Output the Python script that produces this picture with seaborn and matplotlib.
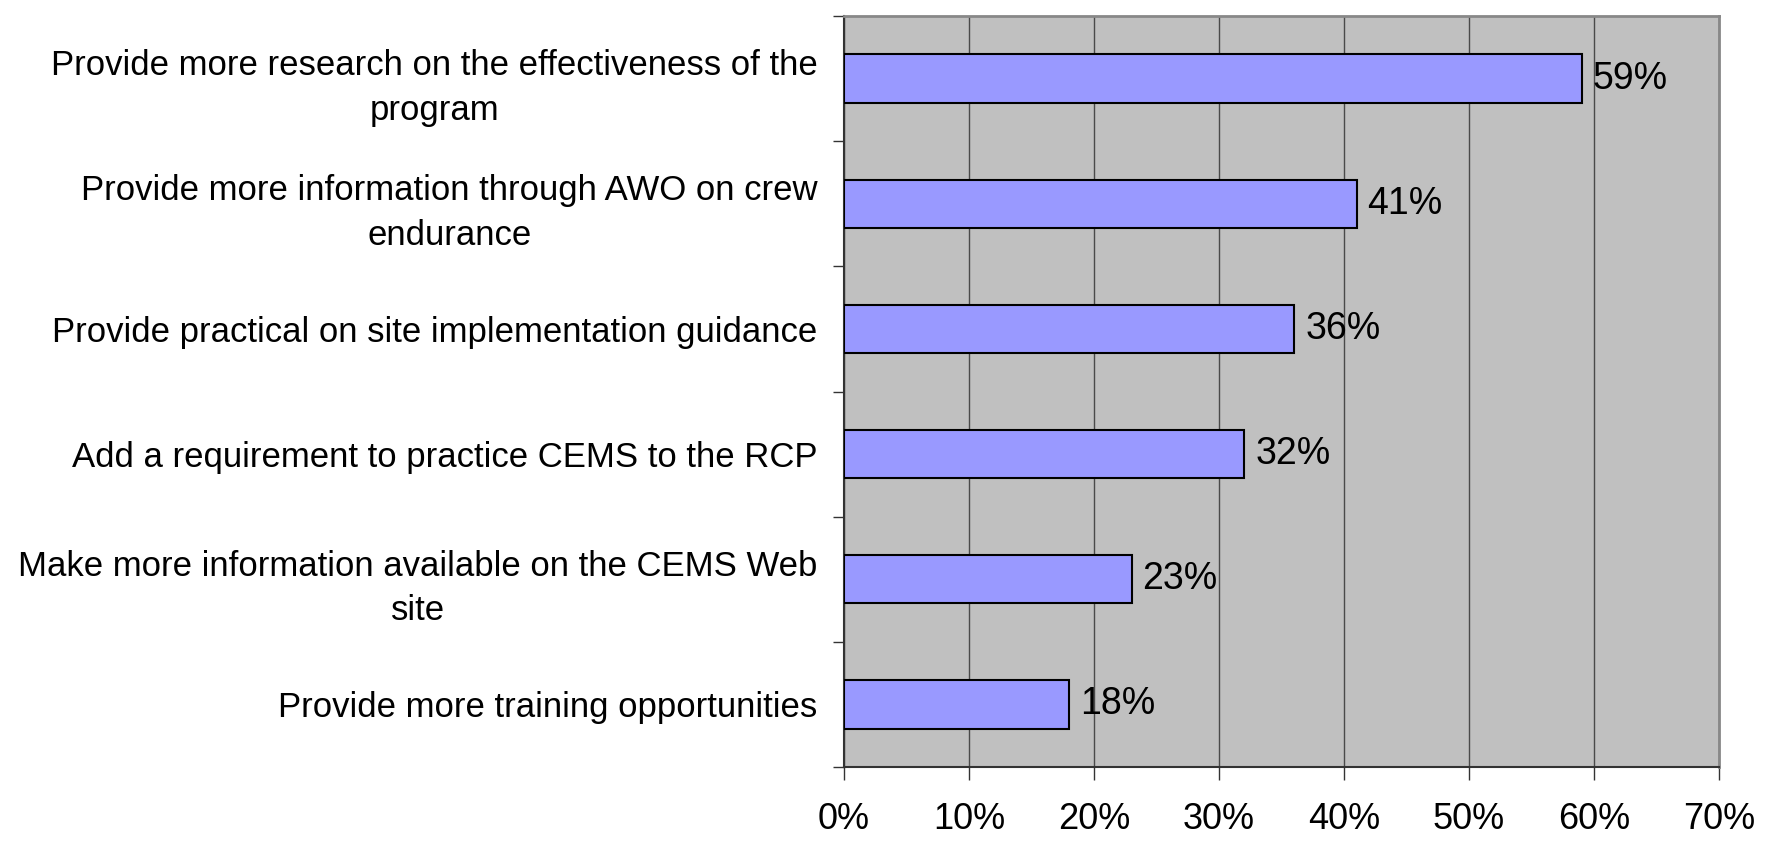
import matplotlib
matplotlib.use("Agg")
import matplotlib.pyplot as plt
from matplotlib import font_manager
from matplotlib.ticker import FixedLocator, FuncFormatter
import seaborn as sns
import pandas as pd

# Data
categories = [
    "Provide more research on the effectiveness of the\nprogram",
    "Provide more information through AWO on crew\nendurance",
    "Provide practical on site implementation guidance",
    "Add a requirement to practice CEMS to the RCP",
    "Make more information available on the CEMS Web\nsite",
    "Provide more training opportunities",
]
values = [59, 41, 36, 32, 23, 18]
x_ticks = [0, 10, 20, 30, 40, 50, 60, 70]

df = pd.DataFrame({"suggestion": categories, "pct": values})

sns.set_style("white")
plt.rcParams["font.family"] = ["Liberation Sans", "DejaVu Sans"]
plt.rcParams["text.color"] = "black"
plt.rcParams["xtick.labelcolor"] = "black"
plt.rcParams["ytick.labelcolor"] = "black"

# narrow font for the long category labels if we have it
installed = {f.name for f in font_manager.fontManager.ttflist}
if "Liberation Sans Narrow" in installed:
    label_family, label_size = "Liberation Sans Narrow", 28
else:
    label_family, label_size = "Liberation Sans", 25

fig = plt.figure(figsize=(17.67, 8.41), dpi=100)
ax = fig.add_axes([844 / 1767, 1 - 767 / 841, 875 / 1767, 751 / 841])
ax.set_facecolor("#C0C0C0")

sns.barplot(data=df, x="pct", y="suggestion", orient="h", color="#9999FF",
            saturation=1, edgecolor="black", linewidth=1.5, width=0.385,
            ax=ax, zorder=3)

ax.set_xlim(0, 70)
ax.set_ylim(len(categories) - 0.5, -0.5)

# vertical grid
ax.xaxis.grid(True, color="#4a4a4a", linewidth=1.0, zorder=1)
ax.yaxis.grid(False)
ax.set_axisbelow(True)

# x ticks
ax.set_xticks(x_ticks)
ax.xaxis.set_major_formatter(FuncFormatter(lambda v, p: f"{v:.0f}%"))
ax.tick_params(axis="x", direction="out", length=9, width=1.0, color="#333333",
               labelsize=26, pad=16, bottom=True)

# y: labels at centres, ticks at category boundaries
ax.tick_params(axis="y", which="major", length=0, pad=19)
ax.yaxis.set_minor_locator(FixedLocator([i - 0.5 for i in range(len(categories) + 1)]))
ax.tick_params(axis="y", which="minor", direction="out", length=8, width=1.0,
               color="#333333", left=True)
for lbl in ax.get_yticklabels():
    lbl.set_fontfamily(label_family)
    lbl.set_fontsize(label_size)
    lbl.set_multialignment("center")
    lbl.set_linespacing(1.45)
    lbl.set_color("black")

ax.set_xlabel("")
ax.set_ylabel("")

for side in ["left", "bottom"]:
    ax.spines[side].set_color("#333333")
    ax.spines[side].set_linewidth(1.5)
for side in ["top", "right"]:
    ax.spines[side].set_color("#888888")
    ax.spines[side].set_linewidth(2)

# value labels
ax.bar_label(ax.containers[0], labels=[f"{v}%" for v in values],
             padding=8, fontsize=27, color="black")

fig.savefig("out.png", dpi=100)
